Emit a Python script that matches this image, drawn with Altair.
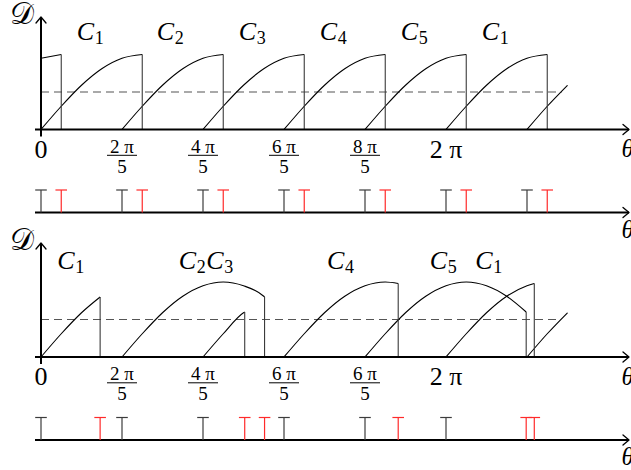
import altair as alt
import pandas as pd

# ---------------------------------------------------------------- data
# θ is measured in steps of 2π/5; s is θ counted from the start of an arc.
profile_s = [0.0, 0.25, 0.5, 0.75, 1.0, 1.25, 1.5, 1.75, 2.0]
profile_d = [0.0, 0.31, 0.59, 0.81, 0.95, 1.00, 0.95, 0.81, 0.59]

threshold = 0.5

# upper diagram
top_arc_start = [-1, 0, 1, 2, 3, 4, 5, 6]
top_arc_len = [1.25, 1.25, 1.25, 1.25, 1.25, 1.25, 1.25, 0.5]
top_arc_end_d = [1.0, 1.0, 1.0, 1.0, 1.0, 1.0, 1.0, 0.59]
top_arc_cut = [True, True, True, True, True, True, True, False]
top_dash_end = 6.43
top_black = [0, 1, 2, 3, 4, 5, 6]
top_tick_pos = [0, 1, 2, 3, 4, 5]
top_tick_num = ["0", "2 π", "4 π", "6 π", "8 π", "2 π"]
top_tick_frac = [False, True, True, True, True, False]
top_label_pos = [0.44, 1.43, 2.44, 3.44, 4.44, 5.44]
top_label_sub = ["1", "2", "3", "4", "5", "1"]

# lower diagram
bot_arc_start = [0, 1, 2, 3, 4, 5, 6]
bot_arc_len = [0.73, 1.76, 0.515, 1.41, 1.99, 1.09, 0.5]
bot_arc_end_d = [0.80, 0.80, 0.60, 0.98, 0.60, 0.98, 0.59]
bot_arc_cut = [True, True, True, True, True, True, False]
bot_dash_end = 6.41
bot_black = [0, 1, 2, 3, 4, 5]
bot_tick_pos = [0, 1, 2, 3, 4, 5]
bot_tick_num = ["0", "2 π", "4 π", "6 π", "6 π", "2 π"]
bot_tick_frac = [False, True, True, True, True, False]
bot_label_pos = [0.20, 1.70, 2.04, 3.53, 4.80, 5.36]
bot_label_sub = ["1", "2", "3", "4", "5", "1"]

# ---------------------------------------------------------------- layout
W, H = 631, 470
X0_PX, STEP_PX = 41.0, 81.0          # pixel of θ = 0, pixels per 2π/5
D_PX = 75.0                          # pixels per unit of D
BASE_TOP, BASE_BOT = 129.5, 357.0    # baselines of the two diagrams

def px_t(p):
    return p / STEP_PX

def px_d(p):
    return p / D_PX

xs = alt.Scale(domain=[-X0_PX / STEP_PX, (W - X0_PX) / STEP_PX], nice=False, zero=False)
ys = alt.Scale(domain=[(BASE_TOP - H) / D_PX, BASE_TOP / D_PX], nice=False, zero=False)

panels = [
    dict(off=0.0, starts=top_arc_start, lens=top_arc_len, ends=top_arc_end_d,
         cut=top_arc_cut, dash=top_dash_end, black=top_black,
         tpos=top_tick_pos, tnum=top_tick_num, tfrac=top_tick_frac,
         lpos=top_label_pos, lsub=top_label_sub, lbase=89.5, ytop=112.5),
    dict(off=-(BASE_BOT - BASE_TOP) / D_PX, starts=bot_arc_start, lens=bot_arc_len,
         ends=bot_arc_end_d, cut=bot_arc_cut, dash=bot_dash_end, black=bot_black,
         tpos=bot_tick_pos, tnum=bot_tick_num, tfrac=bot_tick_frac,
         lpos=bot_label_pos, lsub=bot_label_sub, lbase=88.0, ytop=114.0),
]

STRIP = px_d(83.0)        # depth of the event strip below a diagram
STEM = px_d(22.5)
BAR = px_t(5.8)
AXIS_LEFT = px_t(-6.0)
AXIS_RIGHT = px_t(588.0)

arc_rows, drop_rows, dash_rows, poly_rows, tick_rows = [], [], [], [], []
main_lab, num_lab, den_lab, frac_bars = [], [], [], []
c_lab, theta_lab, d_lab = [], [], []

for pi, p in enumerate(panels):
    off = p["off"]
    # arcs of D(θ) and their sudden drops
    for i, (k, ln, ev, cut) in enumerate(zip(p["starts"], p["lens"], p["ends"], p["cut"])):
        pts = [(s, d) for s, d in zip(profile_s, profile_d) if s < ln and k + s >= 0]
        pts.append((ln, ev))
        for j, (s, d) in enumerate(pts):
            arc_rows.append(dict(arc=f"{pi}-{i}", o=j, t=k + s, y=off + d))
        if cut:
            drop_rows.append(dict(t=k + ln, y=off, y2=off + ev))
            tick_rows.append(dict(t=k + ln, c="#ff2a2a", y=off - STRIP, y2=off - STRIP + STEM))
    dash_rows.append(dict(t=0, t2=p["dash"], y=off + threshold))

    # axes of the diagram and of the event strip
    base = off
    strip = off - STRIP
    poly_rows += [
        dict(id=f"x{pi}", o=0, t=AXIS_LEFT, y=base, w="axis"),
        dict(id=f"x{pi}", o=1, t=AXIS_RIGHT, y=base, w="axis"),
        dict(id=f"y{pi}", o=0, t=0, y=base - px_d(7), w="axis"),
        dict(id=f"y{pi}", o=1, t=0, y=base + px_d(p["ytop"]), w="axis"),
        dict(id=f"s{pi}", o=0, t=AXIS_LEFT, y=strip, w="axis"),
        dict(id=f"s{pi}", o=1, t=AXIS_RIGHT, y=strip, w="axis"),
    ]
    for nm, yy in (("ax", base), ("as", strip)):
        poly_rows += [
            dict(id=f"{nm}{pi}", o=0, t=AXIS_RIGHT - px_t(6), y=yy + px_d(5), w="head"),
            dict(id=f"{nm}{pi}", o=1, t=AXIS_RIGHT, y=yy, w="head"),
            dict(id=f"{nm}{pi}", o=2, t=AXIS_RIGHT - px_t(6), y=yy - px_d(5), w="head"),
        ]
    ytip = base + px_d(p["ytop"])
    poly_rows += [
        dict(id=f"ay{pi}", o=0, t=px_t(-5), y=ytip - px_d(6), w="head"),
        dict(id=f"ay{pi}", o=1, t=0, y=ytip, w="head"),
        dict(id=f"ay{pi}", o=2, t=px_t(5), y=ytip - px_d(6), w="head"),
    ]
    for b in p["black"]:
        tick_rows.append(dict(t=b, c="#3c3c3c", y=strip, y2=strip + STEM))

    # tick labels of θ
    for tp, tn, fr in zip(p["tpos"], p["tnum"], p["tfrac"]):
        if fr:
            num_lab.append(dict(t=tp, y=base - px_d(23.0), txt=tn))
            den_lab.append(dict(t=tp, y=base - px_d(43.0), txt="5"))
            frac_bars.append(dict(t=tp - px_t(15), t2=tp + px_t(15), y=base - px_d(25.8)))
        else:
            main_lab.append(dict(t=tp, y=base - px_d(28), txt=tn))

    # curve names
    for lp, ls in zip(p["lpos"], p["lsub"]):
        c_lab.append(dict(t=lp, y=base + px_d(p["lbase"]), txt="C", sub=ls))

    theta_lab.append(dict(t=px_t(580.5), y=base - px_d(27.5), txt="θ"))
    theta_lab.append(dict(t=px_t(580.5), y=strip - px_d(25), txt="θ"))
    d_lab.append(dict(t=px_t(-19), y=base + px_d(p["ytop"] - 7), txt="𝒟"))

arcs = pd.DataFrame(arc_rows)
drops = pd.DataFrame(drop_rows)
dashes = pd.DataFrame(dash_rows)
polys = pd.DataFrame(poly_rows)
ticks = pd.DataFrame(tick_rows)


def X(f="t"):
    return alt.X(f"{f}:Q", scale=xs, axis=None)


def Y(f="y"):
    return alt.Y(f"{f}:Q", scale=ys, axis=None)


SERIF = "Liberation Serif"

arc_layer = alt.Chart(arcs).mark_line(
    interpolate="monotone", color="black", strokeWidth=1.1
).encode(x=X(), y=Y(), detail="arc:N", order="o:Q")

drop_layer = alt.Chart(drops).mark_rule(color="#3a3a3a", strokeWidth=1.1).encode(
    x=X(), y=Y(), y2="y2:Q"
)

dash_layer = alt.Chart(dashes).mark_rule(
    color="#555555", strokeWidth=1.2, strokeDash=[8, 5]
).encode(x=X(), x2="t2:Q", y=Y())

axis_layer = alt.Chart(polys[polys.w == "axis"]).mark_line(
    color="black", strokeWidth=2.0
).encode(x=X(), y=Y(), detail="id:N", order="o:Q")

head_layer = alt.Chart(polys[polys.w == "head"]).mark_line(
    color="black", strokeWidth=1.3, strokeJoin="round", strokeCap="round"
).encode(x=X(), y=Y(), detail="id:N", order="o:Q")

stem_layer = alt.Chart(ticks).mark_rule(strokeWidth=1.2).encode(
    x=X(), y=Y(), y2="y2:Q", color=alt.Color("c:N", scale=None)
)

bar_layer = alt.Chart(ticks).transform_calculate(
    a=f"datum.t - {BAR}", b=f"datum.t + {BAR}"
).mark_rule(strokeWidth=1.2).encode(
    x=X("a"), x2="b:Q", y=Y("y2"), color=alt.Color("c:N", scale=None)
)

main_layer = alt.Chart(pd.DataFrame(main_lab)).mark_text(
    font=SERIF, fontSize=26, align="center", baseline="alphabetic", color="black"
).encode(x=X(), y=Y(), text="txt:N")

num_layer = alt.Chart(pd.DataFrame(num_lab)).mark_text(
    font=SERIF, fontSize=19, align="center", baseline="alphabetic", color="black"
).encode(x=X(), y=Y(), text="txt:N")

den_layer = alt.Chart(pd.DataFrame(den_lab)).mark_text(
    font=SERIF, fontSize=19, align="center", baseline="alphabetic", color="black"
).encode(x=X(), y=Y(), text="txt:N")

fbar_layer = alt.Chart(pd.DataFrame(frac_bars)).mark_rule(
    color="black", strokeWidth=1.0
).encode(x=X(), x2="t2:Q", y=Y())

c_layer = alt.Chart(pd.DataFrame(c_lab)).mark_text(
    font=SERIF, fontSize=26, fontStyle="italic", align="left",
    baseline="alphabetic", color="black"
).encode(x=X(), y=Y(), text="txt:N")

sub_layer = alt.Chart(pd.DataFrame(c_lab)).mark_text(
    font=SERIF, fontSize=18, align="left", baseline="alphabetic",
    color="black", dx=18, dy=4
).encode(x=X(), y=Y(), text="sub:N")

theta_layer = alt.Chart(pd.DataFrame(theta_lab)).mark_text(
    font=SERIF, fontSize=25, fontStyle="italic", align="left",
    baseline="alphabetic", color="black"
).encode(x=X(), y=Y(), text="txt:N")

d_layer = alt.Chart(pd.DataFrame(d_lab)).mark_text(
    font="DejaVu Serif", fontSize=30, align="center", baseline="alphabetic",
    color="black"
).encode(x=X(), y=Y(), text="txt:N")

chart = alt.layer(
    dash_layer, arc_layer, drop_layer, axis_layer, head_layer,
    stem_layer, bar_layer, main_layer, num_layer, den_layer, fbar_layer,
    c_layer, sub_layer, theta_layer, d_layer,
).properties(
    width=W, height=H, padding=0, autosize=alt.AutoSizeParams(type="none"),
    background="white",
).configure_view(stroke=None)

chart.save("out.html", embed_options={"renderer": "svg", "actions": False})
